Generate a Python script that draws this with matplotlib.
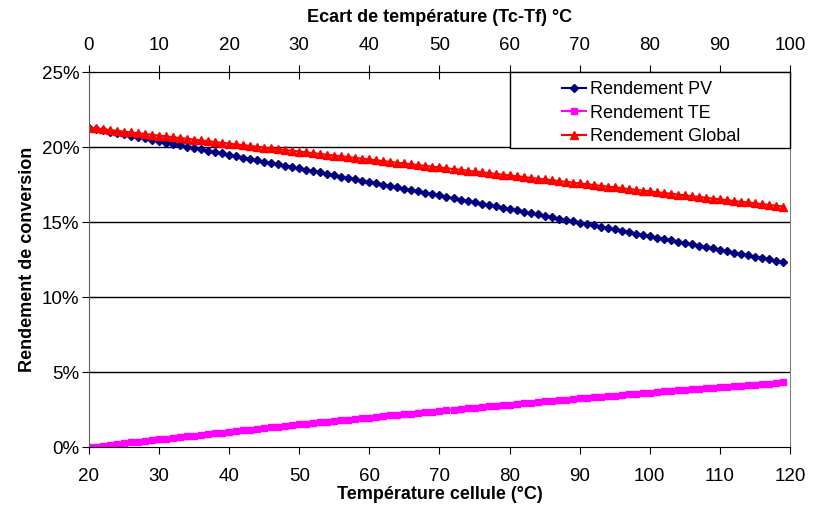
import matplotlib
matplotlib.use('Agg')
import matplotlib.pyplot as plt
from matplotlib.patches import Rectangle
from matplotlib.ticker import FuncFormatter

plt.rcParams['font.family'] = ['Liberation Sans', 'DejaVu Sans']

# cell temperature (°C), one point per degree
temp = list(range(20, 120))

# conversion efficiencies (%)
rend_pv = [21.31, 21.22, 21.13, 21.04, 20.95, 20.86, 20.77, 20.68, 20.59, 20.50,
           20.40, 20.31, 20.22, 20.13, 20.04, 19.95, 19.86, 19.77, 19.68, 19.59,
           19.50, 19.41, 19.32, 19.23, 19.14, 19.05, 18.96, 18.87, 18.78, 18.69,
           18.60, 18.50, 18.41, 18.32, 18.23, 18.14, 18.05, 17.96, 17.87, 17.78,
           17.69, 17.60, 17.51, 17.42, 17.33, 17.24, 17.15, 17.06, 16.97, 16.88,
           16.79, 16.70, 16.60, 16.51, 16.42, 16.33, 16.24, 16.15, 16.06, 15.97,
           15.88, 15.79, 15.70, 15.61, 15.52, 15.43, 15.34, 15.25, 15.16, 15.07,
           14.98, 14.89, 14.79, 14.70, 14.61, 14.52, 14.43, 14.34, 14.25, 14.16,
           14.07, 13.98, 13.89, 13.80, 13.71, 13.62, 13.53, 13.44, 13.35, 13.26,
           13.17, 13.07, 12.98, 12.89, 12.80, 12.71, 12.62, 12.53, 12.44, 12.35]

rend_te = [0.00, 0.05, 0.11, 0.16, 0.21, 0.27, 0.32, 0.37, 0.42, 0.47,
           0.53, 0.58, 0.63, 0.68, 0.73, 0.78, 0.83, 0.88, 0.93, 0.98,
           1.03, 1.08, 1.13, 1.18, 1.23, 1.28, 1.32, 1.37, 1.42, 1.47,
           1.52, 1.56, 1.61, 1.66, 1.70, 1.75, 1.80, 1.84, 1.89, 1.93,
           1.98, 2.03, 2.07, 2.12, 2.16, 2.21, 2.25, 2.29, 2.34, 2.38,
           2.43, 2.47, 2.51, 2.56, 2.60, 2.64, 2.68, 2.73, 2.77, 2.81,
           2.85, 2.89, 2.93, 2.97, 3.01, 3.06, 3.10, 3.14, 3.18, 3.22,
           3.26, 3.29, 3.33, 3.37, 3.41, 3.45, 3.49, 3.53, 3.57, 3.60,
           3.64, 3.68, 3.72, 3.75, 3.79, 3.83, 3.86, 3.90, 3.93, 3.97,
           4.01, 4.04, 4.08, 4.11, 4.15, 4.18, 4.21, 4.25, 4.28, 4.32]

rend_global = [21.31, 21.26, 21.20, 21.15, 21.10, 21.04, 20.99, 20.94, 20.89, 20.83,
               20.78, 20.73, 20.67, 20.62, 20.57, 20.51, 20.46, 20.41, 20.35, 20.30,
               20.25, 20.19, 20.14, 20.09, 20.04, 19.98, 19.93, 19.88, 19.82, 19.77,
               19.72, 19.66, 19.61, 19.56, 19.50, 19.45, 19.40, 19.35, 19.29, 19.24,
               19.19, 19.13, 19.08, 19.03, 18.97, 18.92, 18.87, 18.81, 18.76, 18.71,
               18.66, 18.60, 18.55, 18.50, 18.44, 18.39, 18.34, 18.28, 18.23, 18.18,
               18.12, 18.07, 18.02, 17.96, 17.91, 17.86, 17.81, 17.75, 17.70, 17.65,
               17.59, 17.54, 17.49, 17.43, 17.38, 17.33, 17.27, 17.22, 17.17, 17.11,
               17.06, 17.01, 16.96, 16.90, 16.85, 16.80, 16.74, 16.69, 16.64, 16.58,
               16.53, 16.48, 16.42, 16.37, 16.32, 16.27, 16.21, 16.16, 16.11, 16.05]

fig = plt.figure(figsize=(8.23, 5.11), dpi=100)
ax = fig.add_axes([0.1081, 0.1247, 0.8518, 0.7338])

ax.plot(temp, rend_pv, '-D', color='#000080', lw=1.5, ms=4, label='Rendement PV')
ax.plot(temp, rend_te, '-s', color='#FF00FF', lw=1.5, ms=5, label='Rendement TE')
ax.plot(temp, rend_global, '-^', color='#FF0000', lw=1.5, ms=6, label='Rendement Global')

ax.set_xlim(20, 120)
ax.set_ylim(0, 25)
ax.set_xticks(range(20, 121, 10))
ax.set_yticks(range(0, 26, 5))
ax.yaxis.set_major_formatter(FuncFormatter(lambda v, p: '%d%%' % v))
for y in [5, 10, 15, 20]:
    ax.axhline(y, color='black', lw=1, zorder=0)

ax.spines['left'].set_color('#606060')
ax.spines['right'].set_color('#808080')
ax.spines['bottom'].set_color('black')
ax.spines['top'].set_color('black')
ax.tick_params(axis='x', direction='out', length=5, labelsize=13.5, pad=10)
ax.tick_params(axis='y', direction='inout', length=10, labelsize=13.5, pad=2)

ax.set_xlabel('Température cellule (°C)', fontsize=13, fontweight='bold', labelpad=0.5)
ax.set_ylabel('Rendement de conversion', fontsize=13, fontweight='bold')
ax.yaxis.set_label_coords(-0.0756, 0.5)

top = ax.secondary_xaxis('top', functions=(lambda x: x - 20, lambda x: x + 20))
top.set_xticks(range(0, 101, 10))
top.tick_params(direction='inout', length=10, labelsize=13.5, pad=8)
top.set_xlabel('Ecart de température (Tc-Tf) °C', fontsize=13, fontweight='bold', labelpad=11)

box = Rectangle((0.6006, 0.799), 0.3994, 0.201, transform=ax.transAxes,
                facecolor='white', edgecolor='black', lw=1, zorder=5, clip_on=False)
ax.add_patch(box)
leg = ax.legend(loc='upper left', bbox_to_anchor=(0.672, 0.981), frameon=False,
                fontsize=13, handlelength=1.35, handletextpad=0.2,
                labelspacing=0.35, borderpad=0.1, borderaxespad=0)
leg.set_zorder(6)

fig.savefig('out.png', dpi=100)
